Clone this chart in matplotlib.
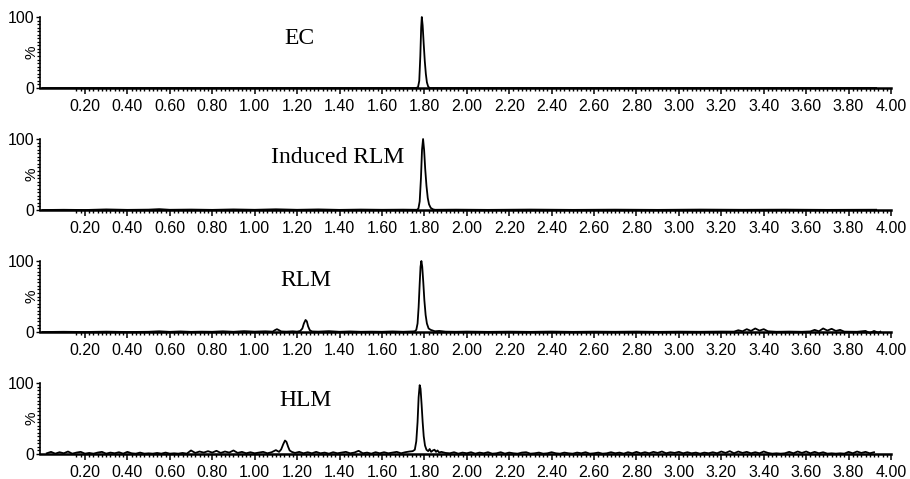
import numpy as np
import matplotlib.pyplot as plt
from matplotlib.ticker import MultipleLocator, FixedLocator

# chromatogram traces: (retention time in min, relative intensity in %)
ec_trace = [
    (0.00, 0), (1.760, 0), (1.770, 1), (1.776, 10), (1.781, 45), (1.785, 85),
    (1.788, 100), (1.792, 88), (1.797, 62), (1.802, 38), (1.807, 20), (1.812, 8),
    (1.818, 2), (1.825, 0), (3.93, 0),
]

induced_trace = [
    (0.00, 0), (0.10, 0.3), (0.20, 0), (0.30, 0.8), (0.40, 0.2), (0.50, 0.5),
    (0.55, 1.2), (0.60, 0.3), (0.70, 0.6), (0.80, 0.2), (0.90, 0.8), (1.00, 0.3),
    (1.10, 1.0), (1.20, 0.3), (1.30, 0.8), (1.40, 0.2), (1.50, 0.6), (1.60, 0.3),
    (1.70, 0.5), (1.765, 0.3), (1.772, 2), (1.778, 12), (1.784, 45), (1.789, 85),
    (1.794, 100), (1.799, 84), (1.804, 58), (1.810, 34), (1.816, 17), (1.822, 8),
    (1.830, 3), (1.840, 1), (1.850, 0.3), (1.95, 0.5), (2.10, 0.2), (2.30, 0.6),
    (2.50, 0.2), (2.70, 0.5), (2.90, 0.2), (3.10, 0.6), (3.30, 0.3), (3.50, 0.5),
    (3.70, 0.2), (3.93, 0.4),
]

rlm_trace = [
    (0.00, 0), (0.10, 0.3), (0.20, 0), (0.30, 0.5), (0.40, 0), (0.50, 0.3),
    (0.55, 1.0), (0.60, 0.2), (0.65, 0.8), (0.70, 0.2), (0.75, 0.5), (0.80, 0.3),
    (0.85, 1.0), (0.90, 0.3), (0.95, 1.2), (1.00, 0.5), (1.05, 1.0), (1.085, 0.5),
    (1.095, 2.5), (1.105, 4.0), (1.115, 2.5), (1.125, 0.8), (1.15, 0.5), (1.18, 1.0),
    (1.20, 0.5), (1.215, 1.5), (1.225, 5), (1.232, 12), (1.240, 17), (1.246, 15),
    (1.252, 8), (1.260, 2.5), (1.27, 0.8), (1.30, 0.5), (1.35, 1.2), (1.40, 0.3),
    (1.45, 0.8), (1.50, 0.3), (1.55, 0.5), (1.60, 0.3), (1.65, 0.8), (1.70, 0.3),
    (1.745, 0.8), (1.755, 1), (1.762, 3), (1.768, 12), (1.773, 35), (1.778, 68),
    (1.782, 92), (1.786, 100), (1.790, 92), (1.795, 70), (1.800, 45), (1.806, 24),
    (1.812, 12), (1.820, 5), (1.830, 3), (1.840, 2), (1.850, 1), (1.87, 1.5),
    (1.90, 0.5), (1.95, 0.3), (2.00, 0.6), (2.10, 0.2), (2.20, 0.5), (2.30, 0.2),
    (2.40, 0.6), (2.50, 0.2), (2.60, 0.5), (2.70, 0.3), (2.80, 0.6), (2.90, 0.2),
    (3.00, 0.5), (3.10, 0.3), (3.20, 0.6), (3.26, 0.5), (3.28, 2.5), (3.30, 1.0),
    (3.32, 4.0), (3.34, 1.5), (3.36, 5.0), (3.38, 2.0), (3.40, 4.0), (3.42, 1.0),
    (3.46, 0.3), (3.52, 0.6), (3.58, 0.3), (3.62, 0.8), (3.64, 3.0), (3.66, 1.0),
    (3.68, 5.0), (3.70, 2.0), (3.72, 4.5), (3.74, 1.5), (3.76, 3.0), (3.78, 0.5),
    (3.84, 0.3), (3.88, 1.5), (3.90, -1.5), (3.92, 1.5), (3.94, -1.0), (3.95, 0.5),
]

hlm_trace = [
    (0.02, 1.0), (0.04, 3.0), (0.06, 0.5), (0.08, 2.5), (0.10, 1.0), (0.12, 3.5),
    (0.14, 0.5), (0.16, 2.0), (0.18, 3.0), (0.20, 0.5), (0.22, 1.5), (0.24, 0.5),
    (0.26, 2.0), (0.28, 3.0), (0.30, 0.5), (0.32, 2.0), (0.34, 1.0), (0.36, 2.5),
    (0.38, 0.5), (0.40, 3.0), (0.42, 1.0), (0.44, 0.5), (0.46, 2.0), (0.48, 0.5),
    (0.50, 1.0), (0.52, 0.5), (0.54, 1.5), (0.56, 0.5), (0.58, 2.0), (0.60, 0.5),
    (0.62, 1.0), (0.64, 0.5), (0.66, 1.5), (0.68, 0.5), (0.70, 5.0), (0.72, 1.5),
    (0.74, 3.5), (0.76, 2.0), (0.78, 4.0), (0.80, 2.0), (0.82, 4.5), (0.84, 1.5),
    (0.86, 3.5), (0.88, 2.0), (0.90, 5.0), (0.92, 1.5), (0.94, 3.0), (0.96, 1.0),
    (0.98, 2.5), (1.00, 1.0), (1.02, 2.0), (1.04, 3.0), (1.06, 1.0), (1.08, 2.5),
    (1.10, 5.5), (1.115, 3.0), (1.125, 6.5), (1.135, 14.0), (1.143, 19.0),
    (1.150, 17.0), (1.158, 10.0), (1.165, 5.0), (1.175, 3.0), (1.19, 1.5),
    (1.21, 3.0), (1.23, 1.0), (1.25, 2.5), (1.27, 1.0), (1.29, 3.0), (1.31, 1.0),
    (1.33, 2.0), (1.35, 0.5), (1.37, 2.5), (1.39, 1.0), (1.41, 2.0), (1.43, 3.0),
    (1.45, 1.0), (1.47, 2.0), (1.49, 4.5), (1.51, 1.0), (1.53, 2.0), (1.55, 0.5),
    (1.57, 2.5), (1.59, 1.0), (1.61, 2.5), (1.63, 1.0), (1.65, 2.0), (1.67, 3.0),
    (1.69, 1.0), (1.71, 2.5), (1.73, 3.5), (1.745, 4.0), (1.755, 6), (1.762, 18),
    (1.768, 45), (1.773, 80), (1.778, 97), (1.782, 92), (1.787, 70), (1.792, 45),
    (1.797, 25), (1.803, 12), (1.810, 6), (1.818, 4), (1.825, 7), (1.832, 3),
    (1.840, 5), (1.848, 6), (1.855, 3), (1.862, 5), (1.87, 2), (1.88, 3),
    (1.90, 1.5), (1.92, 1.0), (1.94, 2.5), (1.96, 0.5), (1.98, 2.0), (2.00, 1.0),
    (2.02, 2.5), (2.04, 0.5), (2.06, 2.0), (2.08, 1.0), (2.10, 2.5), (2.12, 0.5),
    (2.14, 1.0), (2.16, 2.5), (2.18, 0.5), (2.20, 2.0), (2.22, 1.0), (2.24, 0.5),
    (2.26, 2.0), (2.28, 2.5), (2.30, 0.5), (2.32, 1.0), (2.34, 2.0), (2.36, 0.5),
    (2.38, 1.0), (2.40, 2.5), (2.42, 1.0), (2.44, 0.5), (2.46, 2.0), (2.48, 1.0),
    (2.50, 0.5), (2.52, 2.0), (2.54, 1.0), (2.56, 2.5), (2.58, 0.5), (2.60, 1.0),
    (2.62, 2.0), (2.64, 0.5), (2.66, 1.0), (2.68, 2.5), (2.70, 1.0), (2.72, 2.0),
    (2.74, 0.5), (2.76, 2.5), (2.78, 1.0), (2.80, 3.0), (2.82, 1.0), (2.84, 2.5),
    (2.86, 1.0), (2.88, 3.0), (2.90, 1.5), (2.92, 3.5), (2.94, 1.0), (2.96, 2.5),
    (2.98, 1.5), (3.00, 3.0), (3.02, 1.0), (3.04, 2.5), (3.06, 1.0), (3.08, 2.0),
    (3.10, 0.5), (3.12, 2.0), (3.14, 1.0), (3.16, 2.5), (3.18, 1.0), (3.20, 3.5),
    (3.22, 1.5), (3.24, 4.0), (3.26, 1.0), (3.28, 3.5), (3.30, 1.5), (3.32, 3.0),
    (3.34, 1.0), (3.36, 2.5), (3.38, 1.0), (3.40, 3.5), (3.42, 1.5), (3.44, 0.5),
    (3.46, 1.0), (3.48, 0.5), (3.50, 1.0), (3.52, 3.0), (3.54, 1.0), (3.56, 3.5),
    (3.58, 1.5), (3.60, 3.5), (3.62, 1.0), (3.64, 3.0), (3.66, 1.0), (3.68, 2.5),
    (3.70, 0.5), (3.72, 1.0), (3.74, 0.5), (3.76, 1.0), (3.78, 0.5), (3.80, 3.0),
    (3.82, 1.0), (3.84, 3.5), (3.86, 1.5), (3.88, 3.0), (3.90, 1.0), (3.92, 2.5),
]

panel_names = ["EC", "Induced RLM", "RLM", "HLM"]
name_pos = [(1.21, 70), (1.39, 74), (1.24, 72), (1.24, 76)]
x_major = [0.20, 0.40, 0.60, 0.80, 1.00, 1.20, 1.40, 1.60, 1.80, 2.00,
           2.20, 2.40, 2.60, 2.80, 3.00, 3.20, 3.40, 3.60, 3.80, 4.00]

traces = [ec_trace, induced_trace, rlm_trace, hlm_trace]

W, H = 910, 479
fig = plt.figure(figsize=(W / 100, H / 100), dpi=100)

sans = "Liberation Sans"
serif = "Liberation Serif"

left_px, right_px = 40, 891
for k, (trace, name, pos) in enumerate(zip(traces, panel_names, name_pos)):
    zero_px = 88 + 122 * k
    top_px = 17 + 122 * k
    ax = fig.add_axes([left_px / W, (H - zero_px) / H,
                       (right_px - left_px) / W, (zero_px - top_px) / H])
    t, y = np.array(trace).T
    ax.plot(t, y, color="black", lw=1.3, clip_on=False, zorder=3)

    ax.set_xlim(-0.012, 4.0)
    ax.set_ylim(0, 100)
    for s in ["top", "right"]:
        ax.spines[s].set_visible(False)
    ax.spines["bottom"].set_linewidth(1.8)
    ax.spines["left"].set_linewidth(1.2)

    ax.xaxis.set_major_locator(FixedLocator(x_major))
    ax.set_xticklabels([f"{v:.2f}" for v in x_major])
    ax.xaxis.set_minor_locator(FixedLocator(np.round(np.arange(0.16, 4.0, 0.02), 2)))
    ax.tick_params(axis="x", which="major", length=4, width=1.1, pad=4,
                   labelsize=11.5)
    ax.tick_params(axis="x", which="minor", length=2.5, width=1.0)

    ax.set_yticks([0, 100])
    ax.yaxis.set_minor_locator(MultipleLocator(5))
    ax.tick_params(axis="y", which="major", length=3, width=1, pad=1,
                   labelsize=11.5)
    ax.tick_params(axis="y", which="minor", length=2, width=0.9)
    for lab in ax.get_xticklabels() + ax.get_yticklabels():
        lab.set_fontfamily(sans)

    ax.text(-0.010, 0.5, "%", rotation=90, ha="center", va="center",
            transform=ax.transAxes, fontsize=11, family=sans)
    ax.text(pos[0], pos[1], name, ha="center", va="center",
            fontsize=17, family=serif)

fig.savefig("out.png", dpi=100)
